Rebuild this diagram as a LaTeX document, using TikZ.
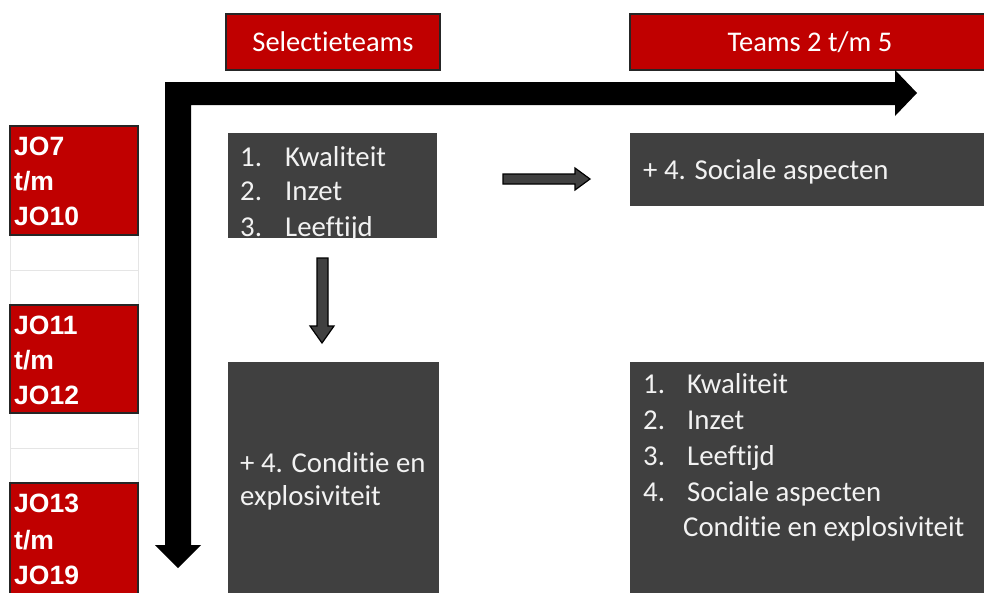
\documentclass[tikz,border=0pt]{standalone}
\usepackage{fontspec}
\setmainfont{Carlito}[Ligatures=NoCommon]
\newfontfamily\arialb{Liberation Sans}
\definecolor{hdrred}{HTML}{C00000}
\definecolor{boxgray}{HTML}{404040}
\definecolor{txtw}{HTML}{F2F2F2}
\begin{document}
\begin{tikzpicture}[x=1pt,y=-1pt,
  redbox/.style={draw=black!85,line width=2pt,fill=hdrred,inner sep=0pt},
  hdrtxt/.style={text=white,font=\fontsize{28.5}{32}\selectfont,anchor=center},
  listtxt/.style={text=txtw,font=\fontsize{28.8}{32}\selectfont,anchor=base west,inner sep=0pt},
  jotxt/.style={text=white,font=\arialb\bfseries\fontsize{26.5}{30}\selectfont,anchor=base west,inner sep=0pt},
  blockarrow/.style={fill=boxgray,draw=black,line width=1.2pt,line join=miter}]
\useasboundingbox (0,0) rectangle (984,592);
\fill[white] (0,0) rectangle (984,592);

% header boxes
\draw[redbox] (226,14) rectangle (440,70);
\node[hdrtxt] (sel) at (333,42) {Selectieteams};
\draw[redbox] (630,14) rectangle (990,70);
\node[hdrtxt] (t25) at (810,42) {Teams 2 t/m 5};

% big L arrow
\fill[black] (165,82) -- (895,82) -- (895,70) -- (917,93) -- (895,116) -- (895,105)
  -- (191,105) -- (191,545) -- (201,545) -- (178,568) -- (155,545) -- (165,545) -- cycle;

% left column
\draw[black!10,line width=0.8pt] (10,235) rectangle (138,305);
\draw[black!10,line width=0.8pt] (10,270) -- (138,270);
\draw[black!10,line width=0.8pt] (10,413) rectangle (138,483);
\draw[black!10,line width=0.8pt] (10,448) -- (138,448);
\draw[redbox] (10,126) rectangle (138,235);
\draw[redbox] (10,305) rectangle (138,413);
\draw[redbox] (10,483) rectangle (138,600);
\node[jotxt] (j1) at (14,155) {JO7};
\node[jotxt] (j2) at (14,190) {t/m};
\node[jotxt] (j3) at (14,225) {JO10};
\node[jotxt] (j4) at (14,334) {JO11};
\node[jotxt] (j5) at (14,369) {t/m};
\node[jotxt] (j6) at (14,404) {JO12};
\node[jotxt] (j7) at (14,512) {JO13};
\node[jotxt] (j8) at (14,549) {t/m};
\node[jotxt] (j9) at (14,584) {JO19};

% box A
\fill[boxgray] (228,133) rectangle (437,238);
\begin{scope}
\clip (228,133) rectangle (437,238);
\node[listtxt] (a1n) at (240,166) {1.};
\node[listtxt] (a1) at (285,166) {Kwaliteit};
\node[listtxt] (a2n) at (240,200) {2.};
\node[listtxt] (a2) at (285,200) {Inzet};
\node[listtxt] (a3n) at (240,236) {3.};
\node[listtxt] (a3) at (285,236) {Leeftijd};
\end{scope}

% box B
\fill[boxgray] (630,133) rectangle (990,206);
\node[listtxt] (b1) at (643,179) {+ 4. Sociale aspecten};

% box C
\fill[boxgray] (228,362) rectangle (439,600);
\node[listtxt] (c1) at (240,472) {+ 4. Conditie en};
\node[listtxt] (c2) at (240,505) {explosiviteit};

% box D
\fill[boxgray] (630,362) rectangle (990,600);
\node[listtxt] (d1n) at (643,393) {1.};
\node[listtxt] (d1) at (687,393) {Kwaliteit};
\node[listtxt] (d2n) at (643,429) {2.};
\node[listtxt] (d2) at (687,429) {Inzet};
\node[listtxt] (d3n) at (643,465) {3.};
\node[listtxt] (d3) at (687,465) {Leeftijd};
\node[listtxt] (d4n) at (643,501) {4.};
\node[listtxt] (d4) at (687,501) {Sociale aspecten};
\node[listtxt] (d5) at (683,536) {Conditie en explosiviteit};

% small block arrows
\draw[blockarrow] (503,174) -- (575,174) -- (575,168) -- (590,179) -- (575,190) -- (575,184) -- (503,184) -- cycle;
\draw[blockarrow] (317,258) -- (328,258) -- (328,326) -- (334,326) -- (322,343) -- (310,326) -- (317,326) -- cycle;
\end{tikzpicture}
\end{document}
